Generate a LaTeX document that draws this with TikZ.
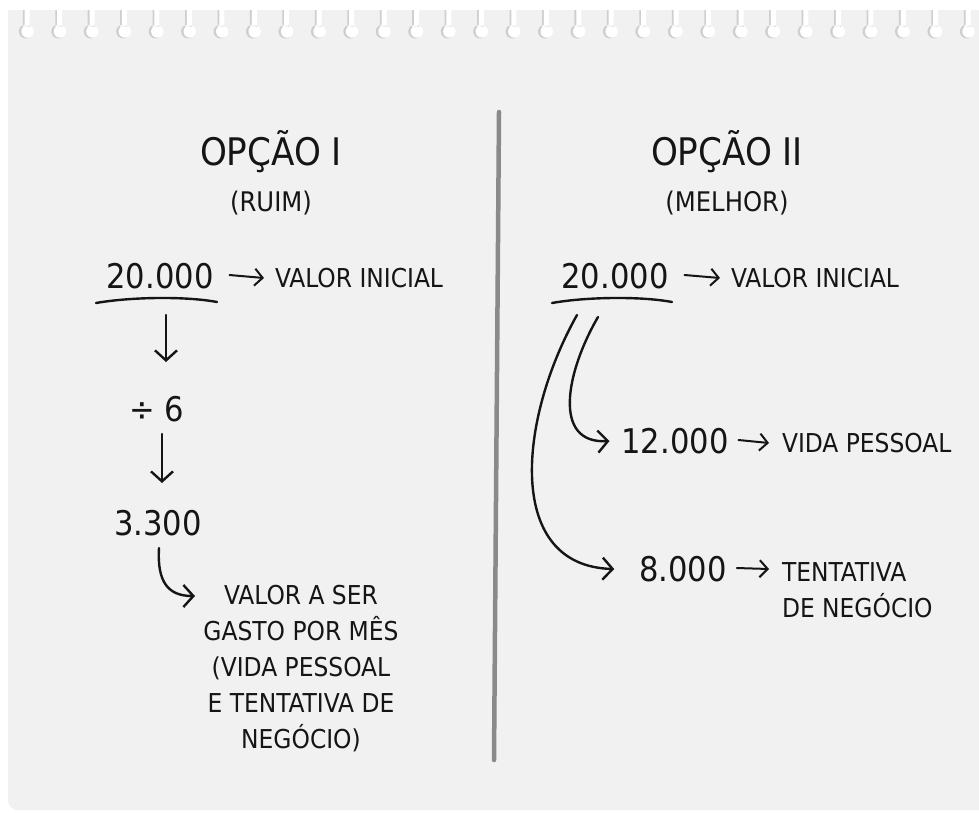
\documentclass[tikz,border=0pt]{standalone}
\usepackage{fontspec}
\setmainfont{DejaVu Sans Condensed}
\usetikzlibrary{arrows.meta}
\definecolor{card}{HTML}{F1F1F1}
\definecolor{ink}{HTML}{151515}
\definecolor{divline}{HTML}{8A8A8A}
\definecolor{holeshade}{HTML}{CFCFCF}
\tikzset{
  x=1pt, y=-1pt,
  every node/.style={inner sep=0pt, outer sep=0pt, text=ink},
  title/.style={font=\fontsize{38}{40}\selectfont},
  subtitle/.style={font=\fontsize{27}{29}\selectfont},
  num/.style={font=\fontsize{34}{36}\selectfont},
  lab/.style={font=\fontsize{26}{36}\selectfont},
  ink line/.style={draw=ink, line width=2.4pt, line cap=round, line join=round},
  arr/.style={ink line, -{Straight Barb[length=10pt,width=22pt,line width=2.4pt]}},
  smallarr/.style={ink line, line width=2pt, -{Straight Barb[length=8pt,width=17pt,line width=2pt]}},
}
\begin{document}
\begin{tikzpicture}
\useasboundingbox (0,0) rectangle (979,812);
\fill[white] (0,0) rectangle (979,812);
% card
\fill[card] (979,10) -- (8,10) -- (8,800) arc[start angle=180,end angle=90,radius=10] -- (979,810) -- cycle;
% spiral holes
\foreach \k in {0,...,29}{
  \pgfmathsetmacro{\hx}{27+32.45*\k}
  \fill[holeshade] (\hx-4.2,10) rectangle (\hx+1.8,27) (\hx-1.2,31.5) circle[radius=7];
  \fill[white] (\hx-2.4,10) rectangle (\hx+2.6,27) (\hx+0.5,31.5) circle[radius=6.2];
}
% divider
\draw[divline, line width=4.5pt, line cap=round] (499,112) -- (494,760);

% ---------- Option I ----------
\node[title] (t1) at (271,152) {OPÇÃO I};
\node[subtitle] (s1) at (271,203) {(RUIM)};
\node[num] (a1) at (160,276) {20.000};
\node[lab, anchor=west] (v1) at (275,278) {VALOR INICIAL};
\draw[smallarr] ([xshift=16pt,yshift=1pt]a1.east) -- ([xshift=-11pt]v1.west);
\coordinate (u1a) at (96,303);
\coordinate (u1b) at (217,302);
\draw[ink line] (u1a) .. controls (130,297) and (185,296) .. (u1b);
\node[num] (d6) at (157,409) {÷ 6};
\node[num] (n33) at (158,523) {3.300};
\coordinate (d1top) at (166,315);
\coordinate (d1bot) at (166,362);
\coordinate (d2top) at (162,434);
\coordinate (d2bot) at (162,483);
\draw[arr] (d1top) -- (d1bot);
\draw[arr] (d2top) -- (d2bot);
\node[lab, align=center] (m1) at (301,669) {VALOR A SER\\GASTO POR MÊS\\(VIDA PESSOAL\\E TENTATIVA DE\\NEGÓCIO)};
\coordinate (c1s) at (159,548);
\coordinate (c1e) at (195,596);
\draw[arr] (c1s) .. controls (157,582) and (168,596) .. (c1e);

% ---------- Option II ----------
\node[title] (t2) at (727,152) {OPÇÃO II};
\node[subtitle] (s2) at (727,203) {(MELHOR)};
\node[num] (a2) at (615,276) {20.000};
\node[lab, anchor=west] (v2) at (731,278) {VALOR INICIAL};
\draw[smallarr] ([xshift=16pt,yshift=1pt]a2.east) -- ([xshift=-11pt]v2.west);
\coordinate (u2a) at (552,303);
\coordinate (u2b) at (672,302);
\draw[ink line] (u2a) .. controls (585,297) and (640,296) .. (u2b);

\node[num] (n12) at (675,441) {12.000};
\node[lab, anchor=west] (vp) at (782,443) {VIDA PESSOAL};
\draw[smallarr] ([xshift=10pt,yshift=1pt]n12.east) -- ([xshift=-13pt]vp.west);
\node[num] (n8) at (683,569) {8.000};
\node[lab, anchor=west, align=left] (tn) at (782,590) {TENTATIVA\\DE NEGÓCIO};
\draw[smallarr] ([xshift=10pt,yshift=1pt]n8.east) -- ([xshift=-13pt]tn.west |- n8.east);

\coordinate (ca) at (598,317);
\coordinate (cb) at (577,315);
\draw[arr] (ca) .. controls (566,372) and (552,444) .. ([xshift=-12pt]n12.west);
\draw[arr] (cb) .. controls (518,420) and (505,566) .. ([xshift=-25pt]n8.west);
\end{tikzpicture}
\end{document}
